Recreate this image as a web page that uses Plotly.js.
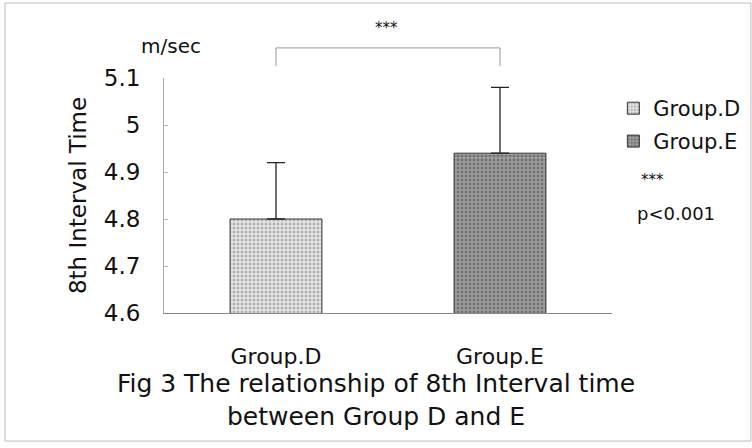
<!DOCTYPE html>
<html>
<head>
<meta charset="utf-8">
<script src="https://cdn.plot.ly/plotly-3.0.1.min.js"></script>
<style>html,body{margin:0;padding:0;background:#fff;}#chart{width:752px;height:448px;}</style>
</head>
<body>
<div id="chart"></div>
<script>
var categories = ['Group.D', 'Group.E'];
var means = [4.80, 4.94];
var errorsUp = [0.12, 0.14];
var errorsDown = [0, 0];
var yTicks = [4.6, 4.7, 4.8, 4.9, 5, 5.1];
var yTickLabels = ['4.6', '4.7', '4.8', '4.9', '5', '5.1'];

var FONT = 'DejaVu Sans, Verdana, sans-serif';

function barTrace(i, bg, fg, legendId) {
  return {
    type: 'bar',
    x: [categories[i]],
    y: [means[i]],
    name: categories[i],
    width: 0.41,
    legend: legendId,
    marker: {
      color: bg,
      line: {color: '#333', width: 1},
      pattern: {shape: '.', bgcolor: bg, fgcolor: fg, size: 4, solidity: 0.45, fillmode: 'overlay'}
    },
    error_y: {
      type: 'data', symmetric: false,
      array: [errorsUp[i]], arrayminus: [errorsDown[i]],
      color: '#222', thickness: 1.3, width: 9
    }
  };
}

var data = [
  barTrace(0, '#e6e6e6', '#7a7a7a', 'legend'),
  barTrace(1, '#a0a0a0', '#444444', 'legend2')
];

var legendStyle = function (y) {
  return {
    x: 1.003, xanchor: 'left', y: y, yanchor: 'middle',
    font: {family: FONT, size: 21, color: '#111'},
    bgcolor: 'rgba(0,0,0,0)', itemwidth: 30, borderwidth: 0
  };
};

function note(text, px, py, size) {
  return {
    text: text, xref: 'paper', yref: 'paper',
    x: (px - 164) / 448, y: (313 - py) / 235,
    xanchor: 'center', yanchor: 'middle',
    showarrow: false, font: {family: FONT, size: size, color: '#111'}
  };
}

var layout = {
  width: 752, height: 448,
  margin: {l: 164, r: 140, t: 78, b: 135, autoexpand: false},
  paper_bgcolor: '#fff', plot_bgcolor: '#fff',
  font: {family: FONT, color: '#111'},
  showlegend: true,
  bargap: 0,
  legend: legendStyle(0.87),
  legend2: legendStyle(0.73),
  title: {
    text: 'Fig 3 The relationship of 8th Interval time<br>between Group D and E',
    font: {family: FONT, size: 25, color: '#111'},
    x: 0.5, xref: 'container', xanchor: 'center',
    y: 1 - 392 / 448, yref: 'container', yanchor: 'middle'
  },
  xaxis: {
    type: 'category',
    categoryarray: categories,
    range: [-0.5, 1.5],
    showline: true, linecolor: '#888', linewidth: 1,
    ticks: 'outside', ticklen: 24, tickcolor: 'rgba(0,0,0,0)',
    tickfont: {family: FONT, size: 22, color: '#111'},
    showgrid: false, zeroline: false, fixedrange: true
  },
  yaxis: {
    range: [4.6, 5.1],
    tickvals: yTicks, ticktext: yTickLabels,
    showline: true, linecolor: '#aaa', linewidth: 1,
    ticks: 'inside', ticklen: 4, tickcolor: '#bbb',
    ticklabelstandoff: 18,
    tickfont: {family: FONT, size: 23, color: '#111'},
    showgrid: false, zeroline: false, fixedrange: true,
    title: {text: '8th Interval Time', font: {family: FONT, size: 23, color: '#111'}, standoff: 10}
  },
  shapes: [
    {type: 'path', xref: 'x', yref: 'paper',
     path: 'M 0,1.051 L 0,1.128 L 1,1.128 L 1,1.051',
     line: {color: '#999', width: 1}},
    {type: 'rect', xref: 'paper', yref: 'paper',
     x0: -0.355, x1: 1.31, y0: -0.545, y1: 1.319,
     line: {color: '#bbb', width: 1}, fillcolor: 'rgba(0,0,0,0)'}
  ],
  annotations: [
    note('m/sec', 171, 46, 20),
    note('***', 386, 28, 15),
    note('***', 652, 180, 15),
    note('p<0.001', 676, 213, 18)
  ]
};

Plotly.newPlot('chart', data, layout, {displayModeBar: false, staticPlot: true});
</script>
</body>
</html>
